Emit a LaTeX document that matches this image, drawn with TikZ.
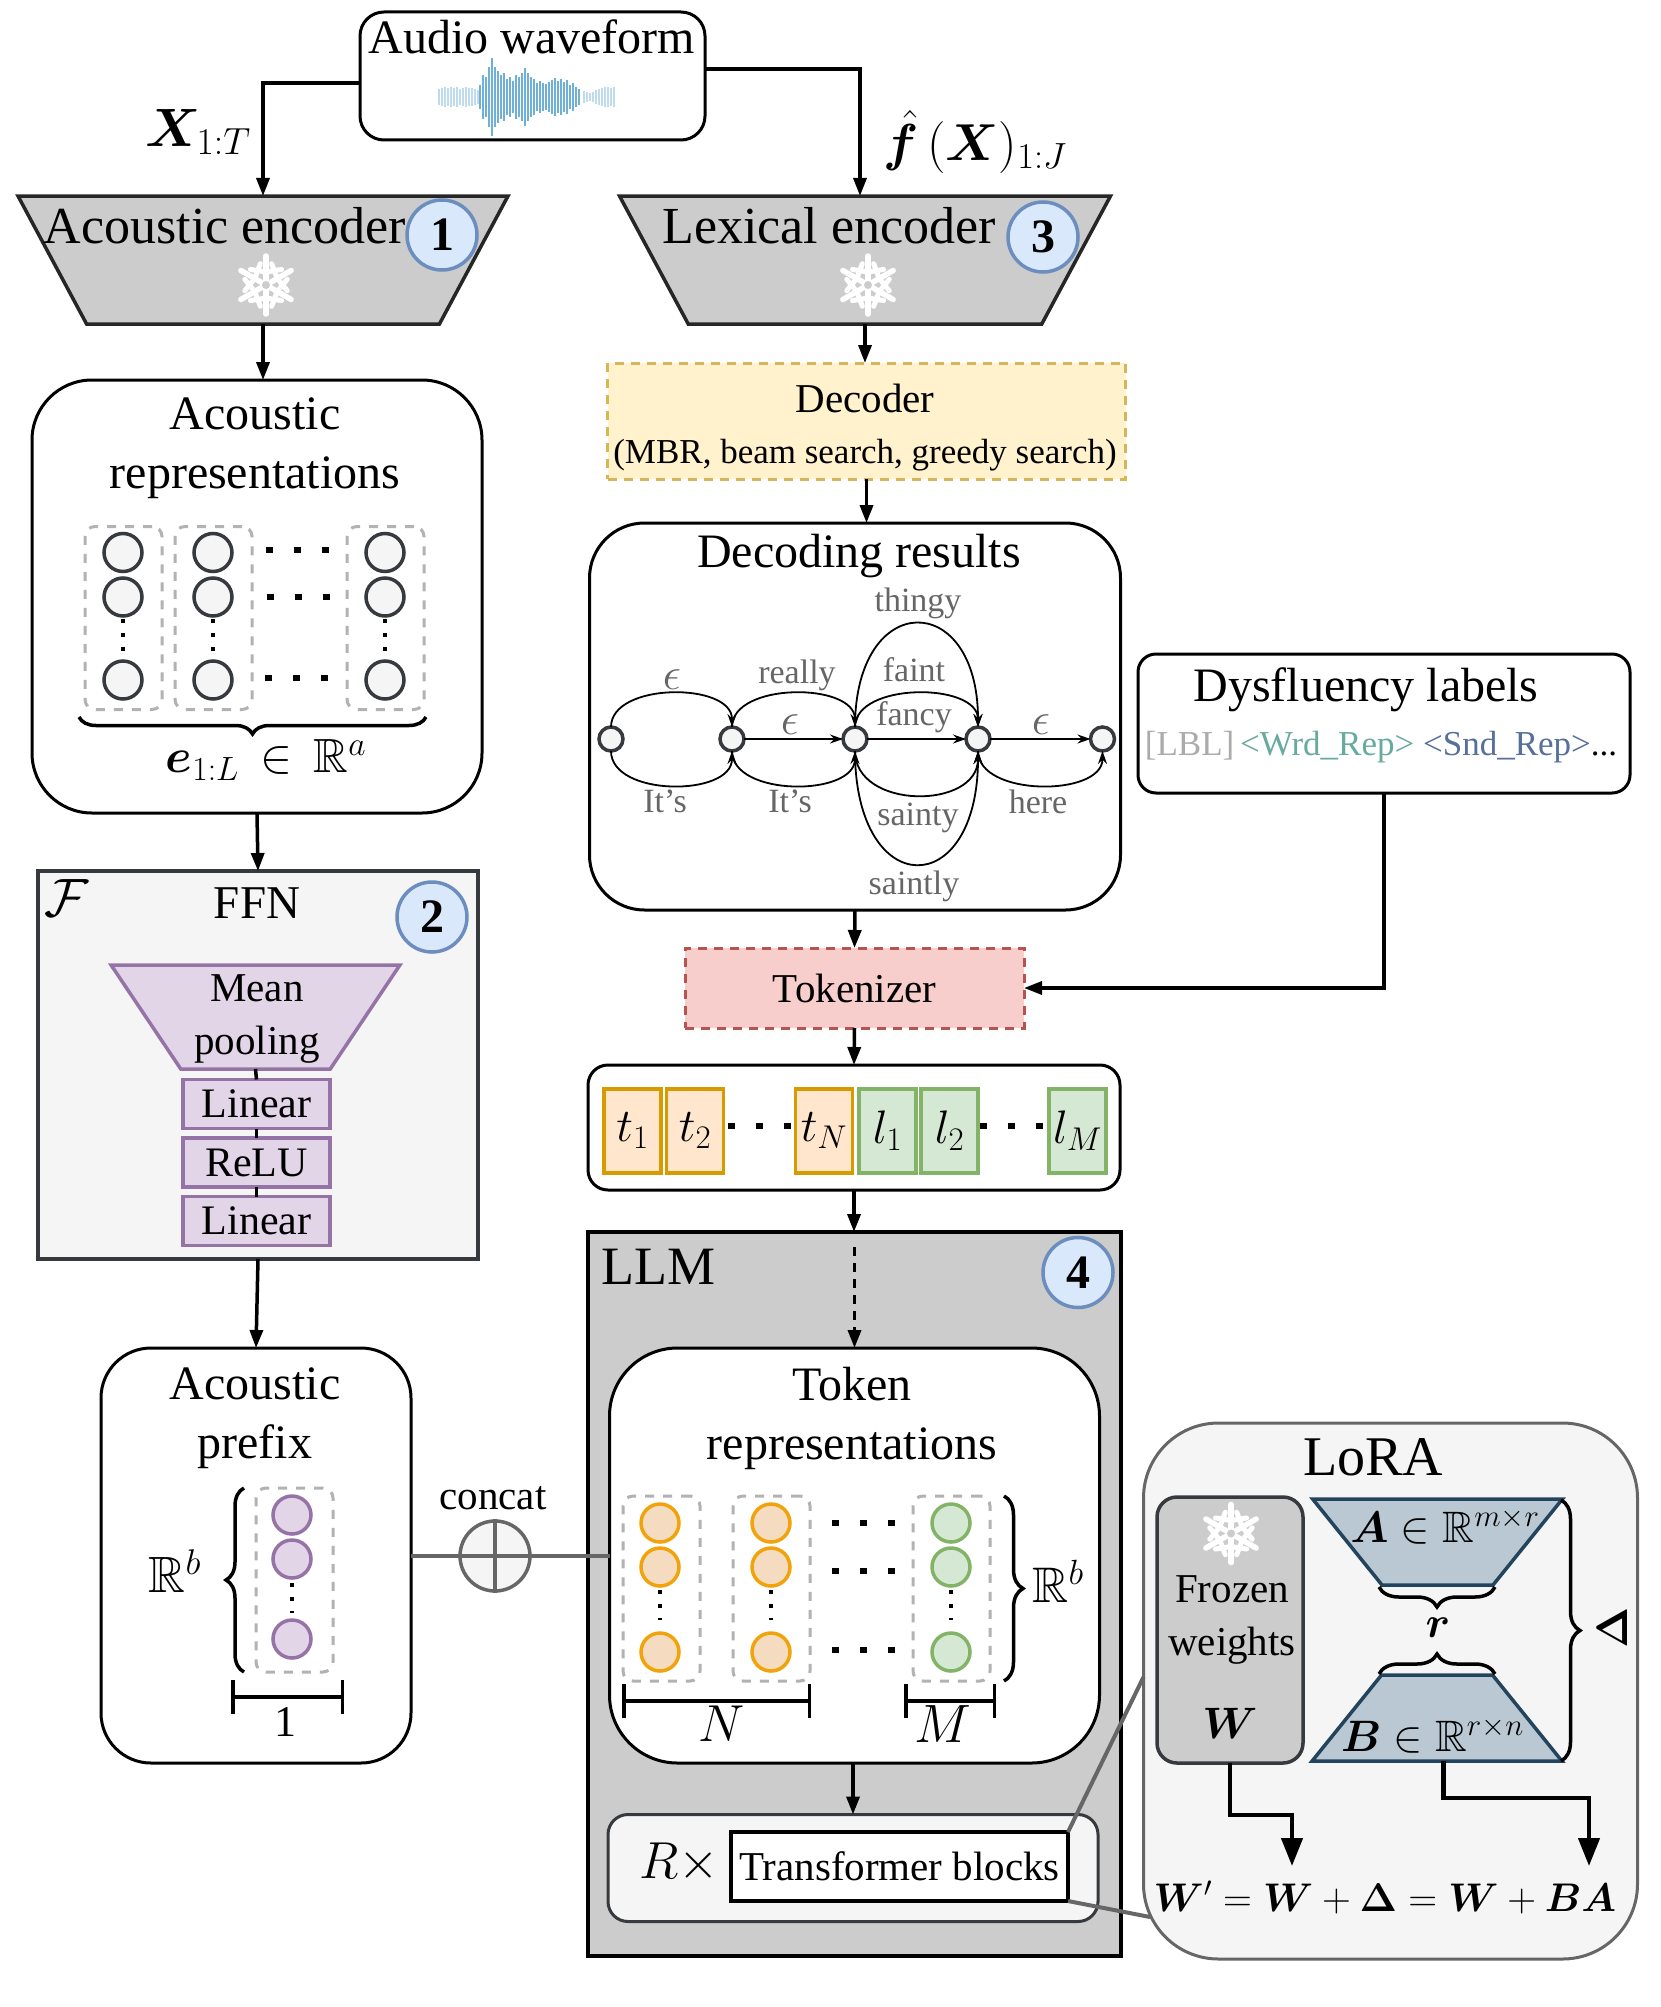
\RequirePackage{fix-cm}
\documentclass[tikz,border=0pt]{standalone}
\usepackage{amsmath,amssymb,bm}
\usepackage{fontspec}
\setmainfont{Liberation Serif}
\usetikzlibrary{arrows.meta,shapes.geometric,decorations.pathreplacing}
\definecolor{slate}{HTML}{36393D}
\definecolor{panel}{HTML}{F5F5F5}
\definecolor{frost}{HTML}{CCCCCC}
\definecolor{pool}{HTML}{E1D5E7}
\definecolor{poolline}{HTML}{9673A6}
\definecolor{badgefill}{HTML}{DAE8FC}
\definecolor{badgeline}{HTML}{6C8EBF}
\definecolor{decfill}{HTML}{FFF2CC}
\definecolor{decline}{HTML}{D6B656}
\definecolor{tokfill}{HTML}{F8CECC}
\definecolor{tokline}{HTML}{B85450}
\definecolor{tfill}{HTML}{FFE6CC}
\definecolor{tline}{HTML}{D79B00}
\definecolor{lfill}{HTML}{D5E8D4}
\definecolor{lline}{HTML}{82B366}
\definecolor{orfill}{HTML}{F5DCC0}
\definecolor{orline}{HTML}{F0A30A}
\definecolor{lora}{HTML}{BAC8D3}
\definecolor{loraline}{HTML}{23445D}
\definecolor{wave}{HTML}{6FB0D8}
\definecolor{wrdtag}{HTML}{67AB9F}
\definecolor{sndtag}{HTML}{56709B}
\newcommand{\bodybox}{\phantom{\rule{10pt}{10pt}}}
\tikzset{
  >={Triangle[length=18pt,width=13pt]},
  txt/.style={inner sep=0pt,align=center,font=\fontsize{#1}{\the\numexpr#1*5/4\relax}\selectfont},
  txt/.default=48,
  gray txt/.style={txt=34,text=black!60},
  box/.style={draw=black,fill=white,line width=3pt,rounded corners=#1,inner sep=0pt,outer sep=0pt},
  box/.default=60pt,
  square/.style={draw=#1,line width=3.5pt,inner sep=0pt,outer sep=0pt},
  funnel/.style={trapezium,trapezium stretches=true,shape border rotate=180,inner sep=0pt,outer sep=0pt,line width=3.5pt},
  cone/.style={trapezium,trapezium stretches=true,inner sep=0pt,outer sep=0pt,line width=3.5pt},
  badge/.style={circle,draw=badgeline,fill=badgefill,line width=3.5pt,minimum size=70pt,inner sep=0pt,
    font=\fontsize{48}{56}\selectfont\bfseries},
  col/.style={draw=black!30,line width=3pt,dash pattern=on 9pt off 9pt,rounded corners=10pt,
    minimum width=77pt,minimum height=183pt,inner sep=0pt},
  cell/.style={circle,draw=#1,line width=3.5pt,minimum size=38pt,inner sep=0pt},
  block/.style={draw=#1,line width=3.5pt,minimum width=57pt,minimum height=84pt,inner sep=0pt},
  state/.style={circle,draw=slate,fill=panel,line width=3.5pt,minimum size=24pt,inner sep=0pt,outer sep=0pt},
  edge/.style={->,line width=1.8pt,>={Stealth[length=13pt,width=9pt]}},
  flow/.style={->,line width=3.5pt},
  bigflow/.style={->,line width=4.5pt,>={Triangle[length=28pt,width=21pt]}},
  link/.style={line width=3.5pt},
  gray link/.style={draw=black!60,line width=4pt},
  curly/.style={decorate,decoration={brace,amplitude=#1},line width=3.5pt},
  curly/.default=17pt,
  span/.style={line width=3.5pt,{Bar[width=34pt]}-{Bar[width=34pt]}},
  dotrow/.style={line width=6.5pt,dash pattern=on 7pt off 21pt},
  dotcol/.style={line width=3.5pt,dash pattern=on 4pt off 10pt},
  % pictograms
  pics/flake/.style={code={
    \foreach \a in {30,90,...,330}{
      \draw[white,line width=5.5pt,line cap=round] (0,0) -- (\a:29);
      \draw[white,line width=5pt,line cap=round] (\a+45:22) -- (\a:13) -- (\a-45:22);
    }
    \fill[#1] (0,0) circle (4);
  }},
}
\begin{document}
\begin{tikzpicture}[x=1pt,y=-1pt]
  \useasboundingbox (0,0) rectangle (1660,2007);
  % audio
  \node[box=24pt,minimum width=345pt,minimum height=128pt] (audio) at (532.5,76) {};
  \node[txt] (audiot) at (532,37) {Audio waveform};
  \foreach \a [count=\i] in {12,22,20,30,39,30,26,22,24,18,20,16,22,20,24,29,24,20,18,14,16,14,13,15,17,19,16,18,15,17,12,14,10,8}
    \draw[wave,line width=2pt] (477+3*\i,97-\a) -- (477+3*\i,97+\a);
  \foreach \a [count=\i] in {8,9,10,9,10,9,10,8,9,10,9,9,8,7}
    \draw[wave!45,line width=2pt] (436+3*\i,97-\a) -- (436+3*\i,97+\a);
  \foreach \a [count=\i] in {6,5,4,5,7,8,9,10,10,9,10}
    \draw[wave!45,line width=2pt] (581+3*\i,97-\a) -- (581+3*\i,97+\a);
  % encoders
  \node[funnel,draw=black!85,fill=frost,minimum width=490pt,minimum height=128pt,trapezium left angle=79,trapezium right angle=79] (acenc) at (263,260) {\bodybox};
  \node[funnel,draw=black!85,fill=frost,minimum width=491pt,minimum height=128pt,trapezium left angle=79,trapezium right angle=79] (lexenc) at (865,260) {\bodybox};
  \node[txt=52] (acenct) at (225,226) {Acoustic encoder};
  \node[txt=52] (lexenct) at (829,226) {Lexical encoder};
  \node[badge] (b1) at (442,235) {1};
  \node[badge] (b3) at (1043,237) {3};
  \pic at (266,285) {flake=frost};
  \pic at (868,285) {flake=frost};
  \draw[flow] ([yshift=-7pt]audio.west) -| (acenc.north);
  \draw[flow] ([yshift=7pt]audio.east) -| ([xshift=-5pt]lexenc.north);
  \node[txt=54] (xlab) at (198,132) {$\bm{X}_{1:T}$};
  \node[txt=52] (flab) at (975,142) {$\hat{\bm{f}}\,(\bm{X})_{1:J}$};
  % acoustic representations
  \node[box,minimum width=450pt,minimum height=433pt] (acrep) at (257,596.5) {};
  \draw[flow] (acenc.south) -- (acenc.south |- acrep.north);
  \node[txt] (acrept) at (255,448) {Acoustic\\[-1pt]representations};
  \foreach \c/\x in {a/123,b/213,c/385}{
    \node[col] (col\c) at (\x.5,618) {};
    \foreach \r/\y in {1/552.5,2/597,3/680}
      \node[cell=slate,fill=panel] (e\c\r) at (\x,\y) {};
    \draw[dotcol,draw=black] (\x,619) -- (\x,651);
  }
  \foreach \y/\x in {550/265.5,597/266.5,678/264.5}
    \draw[dotrow] (\x,\y) -- (\x+63,\y);
  \draw[curly] (426,717) -- (79,717);
  \node[txt=48] (elab) at (266,760) {$\bm{e}_{1:L}\,\in\,\mathbb{R}^a$};
  % FFN
  \node[square=slate,fill=panel,minimum width=440pt,minimum height=388pt] (ffn) at (258,1065) {};
  \draw[flow] (acrep.south) -- (ffn.north);
  \node[txt=54] (calf) at (67,898) {$\mathcal{F}$};
  \node[txt=47] (ffnt) at (257,903) {FFN};
  \node[badge] (b2) at (432,917) {2};
  \node[funnel,draw=poolline,fill=pool,minimum width=289pt,minimum height=104pt,trapezium left angle=65,trapezium right angle=65] (mean) at (255.5,1017) {\bodybox};
  \node[txt=41] (meant) at (257,1019) {Mean\\[2pt]pooling};
  \foreach \n/\t/\y in {lina/Linear/1104,relu/ReLU/1162.5,linb/Linear/1221}
    \node[square=poolline,fill=pool,minimum width=147pt,minimum height=49pt,txt=42] (\n) at (256.5,\y) {\t};
  \draw[link] (mean.south) -- (lina.north);
  \draw[link] (lina.south) -- (relu.north);
  \draw[link] (relu.south) -- (linb.north);
  % acoustic prefix
  \node[box=50pt,minimum width=310pt,minimum height=415pt] (prefix) at (256,1555.5) {};
  \draw[flow] (ffn.south) -- (prefix.north);
  \node[txt] (prefixt) at (255,1418) {Acoustic\\[-1pt]prefix};
  \node[col,minimum height=184pt] (colp) at (294.5,1580) {};
  \foreach \r/\y in {1/1515,2/1559,3/1639}
    \node[cell=poolline,fill=pool] (p\r) at (292,\y) {};
  \draw[dotcol] (292,1583) -- (292,1613);
  \draw[curly=18pt] (244,1672) -- (244,1488);
  \node[txt=51] (rb1) at (175,1571) {$\mathbb{R}^b$};
  \draw[span] (231,1697) -- (344,1697);
  \node[txt=44] (one) at (285,1722) {1};
  % decoder branch
  \node[square=decline,dash pattern=on 9pt off 7pt,line width=3pt,fill=decfill,minimum width=518pt,minimum height=116pt] (dec) at (866.5,421) {};
  \draw[flow] (lexenc.south) -- (lexenc.south |- dec.north);
  \node[txt=41] (dect) at (865,398) {Decoder};
  \node[txt=35] (dect2) at (865,455) {(MBR, beam search, greedy search)};
  \node[box=55pt,minimum width=531pt,minimum height=387pt] (lat) at (855,716.5) {};
  \draw[flow] (dec.south) -- (dec.south |- lat.north);
  \node[txt] (latt) at (859,556) {Decoding results};
  \foreach \n/\x in {0/611,1/732,2/855,3/978,4/1102.5}
    \node[state] (s\n) at (\x,739) {};
  \foreach \a/\b in {1/2,2/3,3/4}
    \draw[edge] (s\a) -- (s\b);
  \foreach \a/\b/\h in {0/1/45,1/2/45,2/3/45,2/3/138}
    \draw[edge] (s\a.north) .. controls +(0,-\h) and +(0,-\h) .. (s\b.north);
  \foreach \a/\b/\h in {0/1/46,1/2/46,3/4/46,2/3/59,2/3/151}
    \draw[edge] (s\a.south) .. controls +(0,\h) and +(0,\h) .. (s\b.south);
  \foreach \n/\x/\y in {e1/672/680,e2/790/725,e3/1041/725}
    \node[txt=46,text=black!60] (\n) at (\x,\y) {$\epsilon$};
  \foreach \n/\t/\x/\y in {really/really/797/675,thingy/thingy/918/603,faint/faint/914/670,fancy/fancy/914/717,
    its1/It's/665/801,its2/It's/790/801,here/here/1038/802,sainty/sainty/918/818,saintly/saintly/914/886}
    \node[gray txt] (\n) at (\x,\y) {\t};
  % labels
  \node[box=18pt,minimum width=492pt,minimum height=139pt] (dysf) at (1384,723.5) {};
  \node[txt] (dysft) at (1366,690) {Dysfluency labels};
  \node[txt=35] (tags) at (1381,747) {\textcolor{black!33}{[LBL]}\,\textcolor{wrdtag}{<Wrd\_Rep>} \textcolor{sndtag}{<Snd\_Rep>}...};
  \node[square=tokline,dash pattern=on 9pt off 7pt,line width=3pt,fill=tokfill,minimum width=339pt,minimum height=80pt,txt=41] (tkn) at (854.5,988) {Tokenizer};
  \draw[flow] (lat.south) -- (tkn.north);
  \draw[flow] (dysf.south) |- (tkn.east);
  % tokens
  \node[box=20pt,minimum width=532pt,minimum height=125pt] (toks) at (854,1127.5) {};
  \draw[flow] (tkn.south) -- (toks.north);
  \foreach \n/\x in {t1/632.5,t2/695,tn/824}
    \node[block=tline,fill=tfill] (\n) at (\x,1131) {};
  \foreach \n/\x in {l1/887.5,l2/949.5,lm/1077.5}
    \node[block=lline,fill=lfill] (\n) at (\x,1131) {};
  \foreach \n/\t in {t1/t_1,t2/t_2,tn/t_N,l1/l_1,l2/l_2,lm/l_M}
    \node[txt=47] (\n lab) at (\n) {$\t$};
  \draw[dotrow] (727.5,1126) -- (790.5,1126);
  \draw[dotrow] (979.5,1126) -- (1042.5,1126);
  % LLM
  \node[square=black,fill=frost,minimum width=533pt,minimum height=724pt] (llm) at (854.5,1594) {};
  \draw[flow] (toks.south) -- (toks.south |- llm.north);
  \node[txt=54] (llmt) at (658,1267) {LLM};
  \node[badge] (b4) at (1078,1272.5) {4};
  \node[box=68pt,minimum width=490pt,minimum height=415pt] (tokrep) at (854.5,1555.5) {};
  \draw[flow,dash pattern=on 9pt off 7pt] ([yshift=-15pt]llm.north) -- (tokrep.north);
  \node[txt] (tokrept) at (852,1418) {Token\\[-1pt]representations};
  \foreach \c/\x in {a/661.5,b/771.5,c/951.5}
    \node[col,minimum height=185pt] (tcol\c) at (\x,1588.5) {};
  \foreach \c/\x/\f/\l in {a/660/orfill/orline,b/771/orfill/orline,c/951/lfill/lline}{
    \foreach \r/\y in {1/1523,2/1567,3/1652}
      \node[cell=\l,fill=\f] (t\c\r) at (\x,\y) {};
    \draw[dotcol] (\x,1590) -- (\x,1620);
  }
  \foreach \y in {1523,1571,1650}
    \draw[dotrow] (832,\y) -- (895,\y);
  \draw[curly=19pt] (1004,1496) -- (1004,1681);
  \node[txt=50] (rb2) at (1058,1581) {$\mathbb{R}^b$};
  \draw[span] (622,1701) -- (811,1701);
  \draw[span] (904,1701) -- (996,1701);
  \node[txt=52] (nlab) at (722,1724) {$N$};
  \node[txt=54] (mlab) at (943,1724) {$M$};
  % concat
  \draw[gray link] (prefix.east) -- (tokrep.west);
  \node[circle,draw=black!60,fill=panel,line width=3.5pt,minimum size=70pt,inner sep=0pt] (concat) at (495,1556) {};
  \draw[gray link] (concat.north) -- (concat.south);
  \draw[gray link] (concat.west) -- (concat.east);
  \node[txt=41] (concatt) at (493,1498) {concat};
  % blocks
  \node[box=20pt,draw=slate,fill=panel,minimum width=490pt,minimum height=107pt] (rbox) at (853,1868) {};
  \draw[flow] (tokrep.south -| rbox.north) -- (rbox.north);
  \node[txt=52] (rtimes) at (679.5,1863) {$R\times$};
  \node[square=black,fill=white,minimum width=337pt,minimum height=69pt,txt=41] (tfm) at (899.5,1866.5) {Transformer blocks};
  % LoRA
  \node[box=75pt,draw=black!60,fill=panel,minimum width=494pt,minimum height=536pt] (lorabox) at (1390.5,1691) {};
  \draw[gray link] (tfm.north east) -- ([yshift=14pt]lorabox.west);
  \coordinate (lorafoot) at (1150,1917);
  \draw[gray link] (tfm.south east) -- (lorafoot);
  \node[txt=56] (lorat) at (1373,1457) {LoRA};
  \node[box=20pt,draw=slate,fill=frost,line width=3.5pt,minimum width=146pt,minimum height=266pt] (frozen) at (1230,1630) {};
  \pic at (1231,1533.5) {flake=frost};
  \node[txt=41] (frozent) at (1232,1620) {Frozen\\[2pt]weights};
  \node[txt=44] (wlab) at (1230,1723) {$\bm{W}$};
  \node[funnel,draw=loraline,fill=lora,minimum width=250pt,minimum height=86pt,trapezium left angle=58,trapezium right angle=58] (tra) at (1437.5,1542) {\bodybox};
  \node[cone,draw=loraline,fill=lora,minimum width=250pt,minimum height=86pt,trapezium left angle=58,trapezium right angle=58] (trb) at (1437,1718) {\bodybox};
  \node[txt=44] (alab) at (1445,1526) {$\bm{A}\in\mathbb{R}^{m\times r}$};
  \node[txt=44] (blab) at (1432.5,1735) {$\bm{B}\in\mathbb{R}^{r\times n}$};
  \draw[curly=20pt] (1495,1587) -- (1379,1587);
  \draw[curly=20pt] (1379,1674) -- (1495,1674);
  \node[txt=44] (rlab) at (1438,1628) {$\bm{r}$};
  \draw[curly=19pt] (1561,1500) -- (1561,1761);
  \node[txt=44,rotate=90] (dlab) at (1612,1628) {$\bm{\Delta}$};
  \coordinate (wend) at (1292,1866);
  \coordinate (bend) at (1589,1866);
  \draw[bigflow] (frozen.south) -- ++(0,52) -| (wend);
  \draw[bigflow] ([xshift=6.5pt]trb.south) -- ++(0,37) -| (bend);
  \node[txt=40] (formula) at (1385,1897.5) {$\bm{W}'=\bm{W}+\bm{\Delta}=\bm{W}+\bm{B}\bm{A}$};
\end{tikzpicture}
\end{document}
